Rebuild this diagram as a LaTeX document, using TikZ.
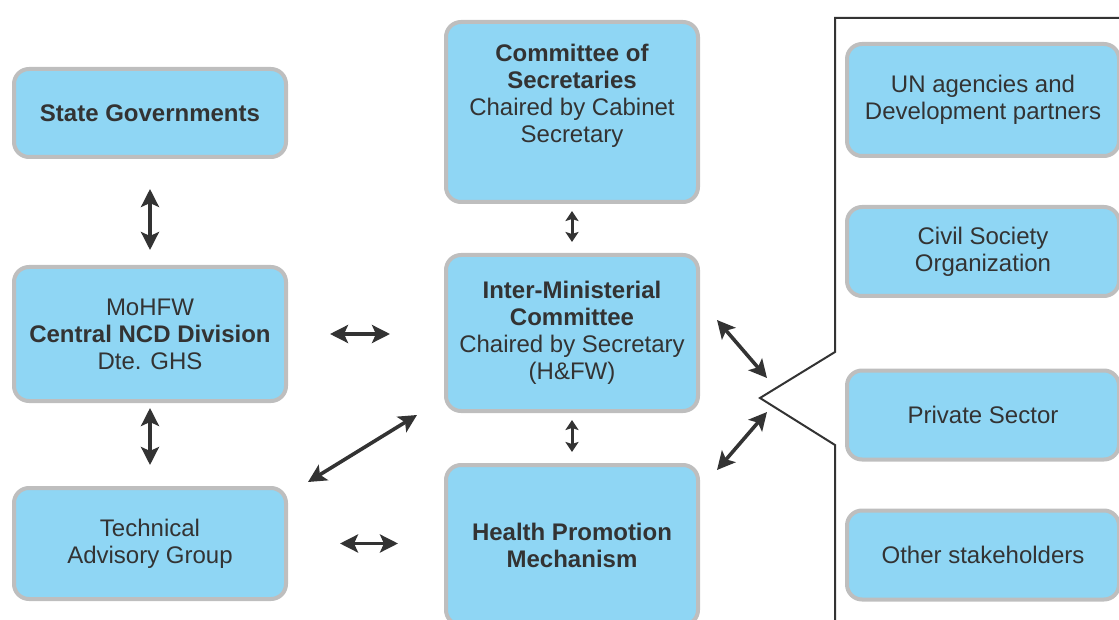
\documentclass[tikz,border=0pt]{standalone}
\usepackage{fontspec}
\setmainfont{Liberation Sans}
\usepackage{xcolor}
\usepackage{tikz}
\usetikzlibrary{arrows.meta,calc}

\definecolor{boxfill}{HTML}{8FD6F4}
\definecolor{boxline}{HTML}{BEBEBE}
\definecolor{ink}{HTML}{333333}

\begin{document}
\begin{tikzpicture}[x=1pt,y=-1pt,
  every node/.style={font=\fontsize{24pt}{27pt}\selectfont,text=ink,inner sep=0pt},
  box/.style={draw=boxline,fill=boxfill,line width=4pt,rounded corners=15pt,
    align=center},
  txt/.style={align=center},
  biarrow/.style={draw=ink,line width=3.6pt,
    {Stealth[length=18pt,width=18pt,inset=4pt]}-{Stealth[length=18pt,width=18pt,inset=4pt]}},
  shortarrow/.style={draw=ink,line width=3pt,
    {Stealth[length=10pt,width=13pt,inset=2pt]}-{Stealth[length=10pt,width=13pt,inset=2pt]}},
  bracket/.style={draw=ink,line width=2pt}]
  \useasboundingbox (0,0) rectangle (1119,620);
  % left column
  \node[box,minimum width=272pt,minimum height=88pt] (stategov) at (150,113)
    {\bfseries State Governments};
  \node[box,minimum width=272pt,minimum height=134pt] (mohfw) at (150,334)
    {MoHFW\\\bfseries Central NCD Division\\Dte. GHS};
  \node[box,minimum width=272pt,minimum height=111pt] (tag) at (150,543.5)
    {Technical\\Advisory Group};
  % middle column
  \node[box,minimum width=252pt,minimum height=180pt] (cos) at (572,112) {};
  \node[txt] (costext) at (572,96)
    {\bfseries Committee of\\\bfseries Secretaries\\Chaired by Cabinet\\Secretary};
  \node[box,minimum width=252pt,minimum height=156pt] (imc) at (572,333)
    {\bfseries Inter-Ministerial\\\bfseries Committee\\Chaired by Secretary\\(H\&FW)};
  \node[box,minimum width=252pt,minimum height=160pt] (hpm) at (572,545)
    {\bfseries Health Promotion\\\bfseries Mechanism};
  % right column
  \node[box,minimum width=272pt,minimum height=112pt] (un) at (983,100)
    {UN agencies and\\Development partners};
  \node[box,minimum width=272pt,minimum height=89pt] (csos) at (983,251.5)
    {Civil Society\\Organization};
  \node[box,minimum width=272pt,minimum height=89pt] (private) at (983,415)
    {Private Sector};
  \node[box,minimum width=272pt,minimum height=89pt] (others) at (983,555)
    {Other stakeholders};
  % bracket
  \coordinate (tip) at (760,398);
  \coordinate (brtop) at (835,352);
  \coordinate (brbot) at (835,445);
  \draw[bracket] (1125,18) -- (835,18) -- (brtop) -- (tip) -- (brbot) -- (835,625);
  % arrows
  \draw[biarrow,shorten <=30pt,shorten >=15pt] (stategov.south) -- (mohfw.north);
  \draw[biarrow,shorten <=5pt,shorten >=21pt] (mohfw.south) -- (tag.north);
  \draw[biarrow,shorten <=42pt,shorten >=54pt] (mohfw.east) -- (mohfw.east -| imc.west);
  \draw[biarrow] ($(tag.north east)+(20,-4)$) -- ($(imc.south west)+(-27,2)$);
  \draw[biarrow,shorten <=52pt,shorten >=46pt] (tag.east) -- (tag.east -| hpm.west);
  \draw[shortarrow,shorten <=7pt,shorten >=11pt] (cos.south) -- (imc.north);
  \draw[shortarrow,shorten <=7pt,shorten >=11pt] (imc.south) -- (hpm.north);
  \draw[biarrow] ($(imc.east)+(17,-13)$) -- ($(tip)+(7,-20)$);
  \draw[biarrow] ($(hpm.north east)+(17,7)$) -- ($(tip)+(7,14)$);
\end{tikzpicture}
\end{document}
